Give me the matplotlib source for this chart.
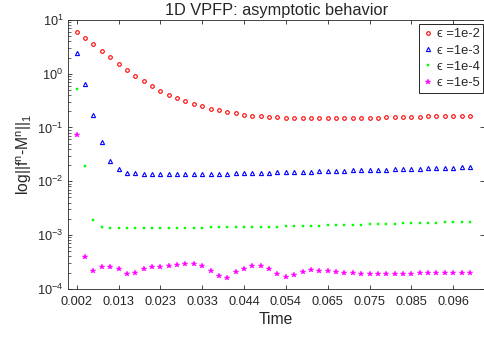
import matplotlib
matplotlib.use("Agg")
import matplotlib.pyplot as plt
from matplotlib.ticker import FixedLocator, FuncFormatter, LogLocator, NullFormatter
import numpy as np

# ---------------- data ----------------
time = [k / 480 for k in range(1, 49)]

eps_1e2 = [5.98, 4.62, 3.53, 2.66, 2.02, 1.54, 1.18, 0.910, 0.724, 0.585,
           0.485, 0.409, 0.355, 0.312, 0.275, 0.249, 0.225, 0.209, 0.195, 0.184,
           0.174, 0.167, 0.162, 0.158, 0.155, 0.153, 0.151, 0.151, 0.149, 0.149,
           0.149, 0.149, 0.151, 0.151, 0.151, 0.153, 0.153, 0.155, 0.155, 0.158,
           0.160, 0.160, 0.162, 0.165, 0.165, 0.167, 0.167, 0.167]

eps_1e3 = [2.47, 0.656, 0.171, 0.0547, 0.0240, 0.0167, 0.0145, 0.0140, 0.0138, 0.0137,
           0.0137, 0.0136, 0.0136, 0.0136, 0.0137, 0.0137, 0.0137, 0.0138, 0.0139, 0.0140,
           0.0141, 0.0142, 0.0143, 0.0144, 0.0146, 0.0147, 0.0148, 0.0150, 0.0151, 0.0153,
           0.0154, 0.0156, 0.0157, 0.0159, 0.0160, 0.0162, 0.0163, 0.0165, 0.0166, 0.0168,
           0.0169, 0.0171, 0.0173, 0.0175, 0.0177, 0.0179, 0.0181, 0.0183]

eps_1e4 = [0.515, 0.0188, 0.00186, 0.00140, 0.00136, 0.00136, 0.00136, 0.00136, 0.00136, 0.00136,
           0.00136, 0.00136, 0.00136, 0.00136, 0.00136, 0.00137, 0.00138, 0.00139, 0.00139, 0.00140,
           0.00140, 0.00141, 0.00142, 0.00143, 0.00143, 0.00144, 0.00145, 0.00146, 0.00147, 0.00148,
           0.00150, 0.00151, 0.00153, 0.00154, 0.00155, 0.00157, 0.00159, 0.00160, 0.00162, 0.00164,
           0.00166, 0.00167, 0.00169, 0.00170, 0.00171, 0.00173, 0.00175, 0.00178]

eps_1e5 = [0.0728, 3.82e-4, 2.16e-4, 2.49e-4, 2.57e-4, 2.32e-4, 1.87e-4, 1.95e-4, 2.32e-4, 2.57e-4,
           2.57e-4, 2.64e-4, 2.75e-4, 2.92e-4, 2.88e-4, 2.60e-4, 2.16e-4, 1.72e-4, 1.60e-4, 2.01e-4,
           2.35e-4, 2.60e-4, 2.60e-4, 2.33e-4, 1.90e-4, 1.67e-4, 1.80e-4, 2.03e-4, 2.20e-4, 2.18e-4,
           2.10e-4, 2.03e-4, 1.97e-4, 1.93e-4, 1.87e-4, 1.85e-4, 1.85e-4, 1.85e-4, 1.87e-4, 1.89e-4,
           1.91e-4, 1.93e-4, 1.95e-4, 1.97e-4, 1.97e-4, 1.97e-4, 1.95e-4, 1.93e-4]

labels = ["ϵ =1e-2", "ϵ =1e-3", "ϵ =1e-4", "ϵ =1e-5"]

xtick_vals = [time[i] for i in range(0, 48, 5)]
xtick_labels = ["0.002", "0.013", "0.023", "0.033", "0.044",
                "0.054", "0.065", "0.075", "0.085", "0.096"]

# ---------------- style ----------------
plt.rcParams["font.family"] = ["Liberation Sans", "DejaVu Sans"]
plt.rcParams["mathtext.default"] = "regular"
dark = "#262626"

W, H = 485, 339
fig = plt.figure(figsize=(W / 100, H / 100), dpi=100)
ax_l, ax_r, ax_t, ax_b = 68.3, 484.0, 20.0, 288.7
ax = fig.add_axes([ax_l / W, 1 - ax_b / H, (ax_r - ax_l) / W, (ax_b - ax_t) / H])

ax.semilogy(time, eps_1e2, linestyle="none", marker="o", ms=2.6, mfc="none",
            mec="#ff0000", mew=0.8, label=labels[0])
ax.semilogy(time, eps_1e3, linestyle="none", marker="^", ms=3.0, mfc="none",
            mec="#0000ff", mew=0.8, label=labels[1])
ax.semilogy(time, eps_1e4, linestyle="none", marker="s", ms=1.5, mfc="#00ff00",
            mec="#00ff00", mew=0.3, label=labels[2])
ax.semilogy(time, eps_1e5, linestyle="none", marker="*", ms=4.2, mfc="#ff00ff",
            mec="#ff00ff", mew=0.3, label=labels[3])

ax.set_xlim(0, 0.1035)
ax.set_ylim(1e-4, 1e1)

ax.xaxis.set_major_locator(FixedLocator(xtick_vals))
ax.set_xticklabels(xtick_labels)
ax.yaxis.set_major_locator(LogLocator(base=10, numticks=10))
ax.yaxis.set_major_formatter(FuncFormatter(lambda v, p: "10$^{%d}$" % int(round(np.log10(v)))))
ax.yaxis.set_minor_locator(LogLocator(base=10, subs=np.arange(2, 10), numticks=20))
ax.yaxis.set_minor_formatter(NullFormatter())

ax.tick_params(which="major", direction="in", length=3.2, width=0.6, color=dark,
               labelcolor=dark, labelsize=9.2, top=True, right=True)
ax.tick_params(axis="x", which="major", pad=5)
ax.tick_params(axis="y", which="major", pad=3.5)
ax.tick_params(which="minor", direction="in", length=1.8, width=0.5, color=dark,
               left=True, right=False)
for s in ax.spines.values():
    s.set_color(dark)
    s.set_linewidth(0.6)

ax.set_title("1D VPFP: asymptotic behavior", fontsize=11.8, color=dark, pad=3.5)
ax.set_xlabel("Time", fontsize=11.3, color=dark, labelpad=3)
ax.set_ylabel("log||f$^{n}$-M$^{n}$||$_{1}$", fontsize=11.3, color=dark, labelpad=2)

leg = ax.legend(loc="upper right", bbox_to_anchor=(483.3 / W, 1 - 24.3 / H),
                bbox_transform=fig.transFigure, borderaxespad=0,
                fontsize=9.3, frameon=True, fancybox=False, shadow=False,
                handlelength=0.7, handletextpad=0.35, borderpad=0.3,
                labelspacing=0.33, markerscale=1.0)
leg.get_frame().set_edgecolor(dark)
leg.get_frame().set_linewidth(0.7)
leg.get_frame().set_alpha(1)
for t in leg.get_texts():
    t.set_color(dark)

fig.savefig("out.png", dpi=100)
